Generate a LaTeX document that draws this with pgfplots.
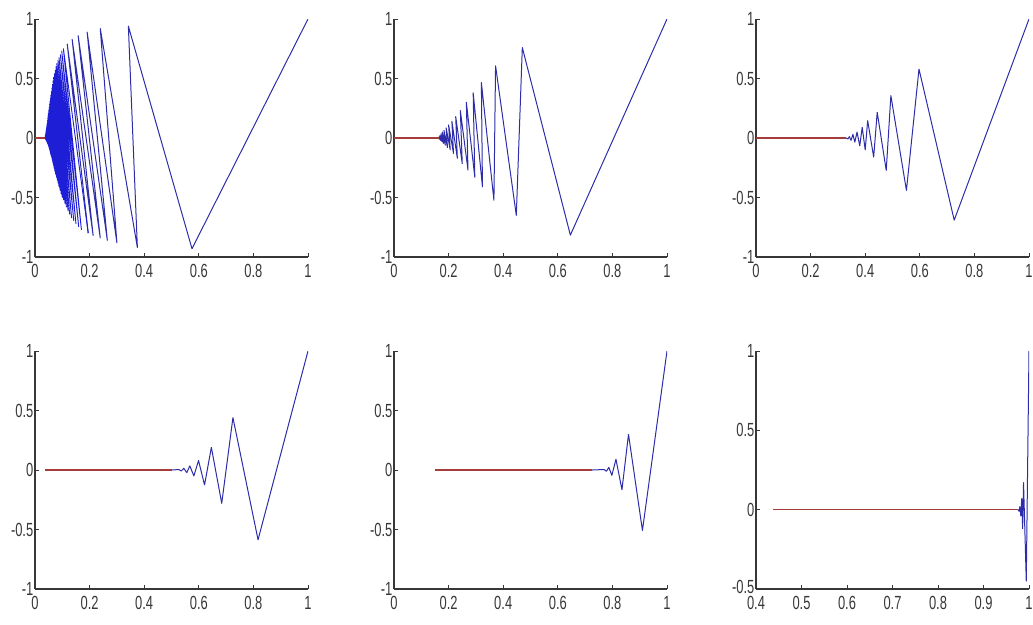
\documentclass[border=0pt]{standalone}
\usepackage{fontspec}
\setmainfont{Liberation Sans}
\usepackage{pgfplots}
\pgfplotsset{compat=1.18}

\definecolor{trace}{RGB}{45,45,170}
\definecolor{densetrace}{RGB}{30,30,215}
\definecolor{flat}{RGB}{165,60,60}
\definecolor{axisgray}{RGB}{55,55,55}

\pgfplotsset{
  mlab/.style={
    scale only axis, width=273pt, height=238pt,
    axis x line=bottom, axis y line=left,
    axis line style={-, axisgray, line width=1.2pt},
    every outer x axis line/.append style={-},
    every outer y axis line/.append style={-},
    tick align=inside, major tick length=4pt,
    every tick/.style={axisgray, line width=1pt},
    xmin=0, xmax=1, ymin=-1, ymax=1,
    xtick={0,0.2,0.4,0.6,0.8,1}, xticklabels={0,0.2,0.4,0.6,0.8,1},
    ytick={-1,-0.5,0,0.5,1}, yticklabels={-1,-0.5,0,0.5,1},
    tick label style={font=\fontsize{19}{19}\selectfont, text=axisgray, xscale=0.68},
    xticklabel style={yshift=-4pt},
    yticklabel style={xshift=1pt},
  },
  wave/.style={trace, line width=1pt, line join=round, no markers},
  zero/.style={flat, line width=1.1pt, no markers},
}

\begin{document}
\begin{tikzpicture}
\useasboundingbox (0,0) rectangle (1033pt,-624pt);

% first iterate: many teeth packed near the origin
\begin{axis}[mlab, at={(35pt,-257pt)}, anchor=south west]
\addplot[wave] coordinates {
(1,1) (0.575,-0.93) (0.342,0.94) (0.375,-0.92) (0.239,0.92) (0.300,-0.88)
(0.191,0.89) (0.265,-0.86) (0.158,0.86) (0.239,-0.84) (0.136,0.83) (0.213,-0.82)
(0.118,0.79) (0.195,-0.80)
};
\addplot[wave, densetrace, line width=0.9pt] coordinates {
(0.195,-0.80)
(0.104,0.75) (0.170,-0.77) (0.098,0.73) (0.160,-0.745) (0.093,0.70) (0.150,-0.72)
(0.088,0.675) (0.142,-0.695) (0.084,0.65) (0.134,-0.67) (0.080,0.625) (0.127,-0.64)
(0.077,0.60) (0.121,-0.61) (0.074,0.57) (0.115,-0.58) (0.071,0.54) (0.110,-0.55)
(0.068,0.51) (0.105,-0.52) (0.066,0.48) (0.100,-0.50) (0.064,0.45) (0.096,-0.47)
(0.062,0.42) (0.092,-0.44) (0.060,0.39) (0.088,-0.41) (0.058,0.36) (0.085,-0.38)
(0.0565,0.335) (0.082,-0.355) (0.055,0.31) (0.079,-0.33) (0.0535,0.285) (0.076,-0.305)
(0.052,0.26) (0.073,-0.28) (0.0505,0.235) (0.0705,-0.255) (0.049,0.21) (0.068,-0.23)
(0.048,0.19) (0.0655,-0.205) (0.047,0.17) (0.063,-0.18) (0.046,0.15) (0.0605,-0.16)
(0.045,0.13) (0.058,-0.14) (0.044,0.115) (0.056,-0.12) (0.043,0.10) (0.054,-0.10)
(0.042,0.085) (0.052,-0.085) (0.041,0.07) (0.050,-0.07) (0.0405,0.058) (0.048,-0.057)
(0.040,0.045) (0.046,-0.045) (0.039,0.035) (0.044,-0.035) (0.038,0.025) (0.042,-0.025)
(0.0375,0.018) (0.0405,-0.018) (0.037,0.01) (0.039,-0.01) (0.036,0)
};
\addplot[zero] coordinates {(0,0) (0.036,0)};
\end{axis}

\begin{axis}[mlab, at={(394pt,-257pt)}, anchor=south west]
\addplot[wave] coordinates {
(1,1) (0.646,-0.816) (0.470,0.76) (0.448,-0.65) (0.372,0.607) (0.366,-0.523)
(0.320,0.467) (0.324,-0.41) (0.290,0.38) (0.296,-0.33) (0.265,0.30) (0.271,-0.27)
(0.243,0.23) (0.250,-0.215) (0.226,0.18) (0.232,-0.17) (0.212,0.14) (0.218,-0.13)
(0.200,0.11) (0.206,-0.10) (0.191,0.085) (0.196,-0.08) (0.183,0.065) (0.188,-0.06)
(0.177,0.05) (0.181,-0.045) (0.172,0.035) (0.176,-0.03) (0.168,0.02) (0.171,-0.02)
(0.165,0.01) (0.167,-0.01) (0.163,0)
};
\addplot[zero] coordinates {(0,0) (0.163,0)};
\end{axis}

\begin{axis}[mlab, at={(756pt,-257pt)}, anchor=south west]
\addplot[wave] coordinates {
(1,1) (0.726,-0.69) (0.597,0.579) (0.551,-0.44) (0.494,0.356) (0.477,-0.272)
(0.444,0.216) (0.431,-0.16) (0.409,0.146) (0.400,-0.10) (0.389,0.09) (0.380,-0.065)
(0.370,0.05) (0.362,-0.035) (0.355,0.03) (0.348,-0.02) (0.342,0.012) (0.337,-0.008)
(0.330,0)
};
\addplot[zero] coordinates {(0,0) (0.330,0)};
\end{axis}

\begin{axis}[mlab, at={(35pt,-589pt)}, anchor=south west]
\addplot[wave] coordinates {
(1,1) (0.817,-0.586) (0.725,0.44) (0.684,-0.28) (0.646,0.19) (0.621,-0.125)
(0.599,0.08) (0.582,-0.05) (0.567,0.035) (0.556,-0.022) (0.545,0.014) (0.536,-0.008)
(0.527,0.004) (0.500,0)
};
\addplot[zero] coordinates {(0.037,0) (0.500,0)};
\end{axis}

\begin{axis}[mlab, at={(394pt,-589pt)}, anchor=south west]
\addplot[wave] coordinates {
(1,1) (0.910,-0.508) (0.859,0.30) (0.835,-0.165) (0.813,0.09) (0.798,-0.045)
(0.787,0.022) (0.778,-0.01) (0.770,0.004) (0.726,0)
};
\addplot[zero] coordinates {(0.150,0) (0.726,0)};
\end{axis}

\begin{axis}[mlab, at={(756pt,-589pt)}, anchor=south west,
  xmin=0.4, xmax=1, ymin=-0.5, ymax=1,
  xtick={0.4,0.5,0.6,0.7,0.8,0.9,1}, xticklabels={0.4,0.5,0.6,0.7,0.8,0.9,1},
  ytick={-0.5,0,0.5,1}, yticklabels={\raisebox{4pt}{-0.5},0,0.5,1}]
\addplot[wave] coordinates {
(1,1) (0.994,-0.45) (0.988,0.17) (0.986,-0.12) (0.984,0.07) (0.982,-0.04)
(0.980,0.02) (0.978,-0.01) (0.976,0)
};
\addplot[zero] coordinates {(0.4375,0) (0.976,0)};
\end{axis}
\end{tikzpicture}
\end{document}
